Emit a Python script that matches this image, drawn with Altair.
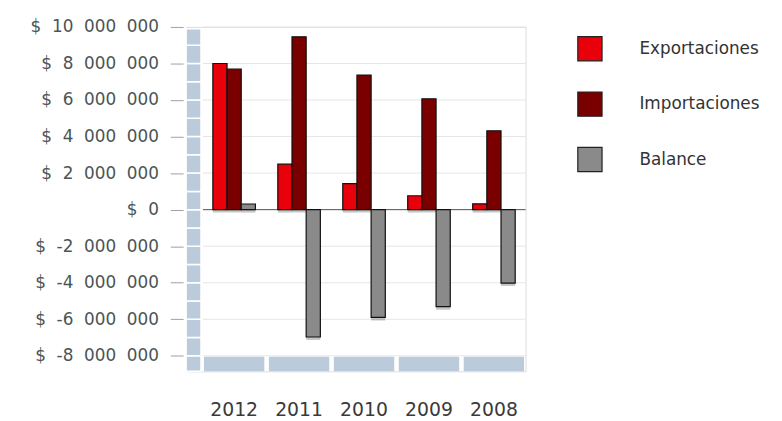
import altair as alt
import pandas as pd

years = ["2012", "2011", "2010", "2009", "2008"]
series = ["Exportaciones", "Importaciones", "Balance"]
exportaciones = [8000000, 2490000, 1420000, 760000, 320000]
importaciones = [7690000, 9460000, 7370000, 6070000, 4320000]
balance = [310000, -6970000, -5900000, -5310000, -4020000]
colors = ["#e8000a", "#7a0000", "#8a8a8a"]
tick_values = [-8000000, -6000000, -4000000, -2000000, 0, 2000000, 4000000, 6000000, 8000000, 10000000]
wall_marks = [-8850000, -8000000, -7000000, -6000000, -5000000, -4000000, -3000000, -2000000, -1000000,
              0, 1000000, 2000000, 3000000, 4000000, 5000000, 6000000, 7000000, 8000000, 9000000, 9900000]
floor_top = -8050000
floor_bottom = -8850000

rows = []
for i, y in enumerate(years):
    rows.append({"year": y, "serie": series[0], "value": exportaciones[i]})
    rows.append({"year": y, "serie": series[1], "value": importaciones[i]})
    rows.append({"year": y, "serie": series[2], "value": balance[i]})
df = pd.DataFrame(rows)

grid_df = pd.DataFrame({"v": tick_values})
wall_df = pd.DataFrame({"y0": wall_marks[:-1], "y1": wall_marks[1:]})
floor_df = pd.DataFrame({"year": years, "top": [floor_top] * 5, "bottom": [floor_bottom] * 5})
zero_df = pd.DataFrame({"v": [0]})

W, H = 343, 348
yscale = alt.Scale(domain=[floor_bottom, 10000000], nice=False, zero=False)
xscale = alt.Scale(domain=years, range=[27, 332.5], paddingInner=0.345, paddingOuter=0)

FONT = "DejaVu Sans"

yaxis = alt.Axis(
    values=tick_values, grid=False, domain=False, tickSize=13, tickColor="#a0a0a0",
    offset=3, labelPadding=12, labelFont=FONT, labelFontSize=17, labelColor="#4a5555",
    labelOverlap=False, tickCount=10,
    labelExpr="'$\u2007' + replace(replace(format(datum.value, ','), regexp(',', 'g'), '\u2007'), '\u2212', '-')",
    title=None)

xaxis = alt.Axis(
    title=None, domain=False, ticks=False, labelAngle=0, labelAlign="center", labelPadding=30,
    labelFont=FONT, labelFontSize=19, labelColor="#3a3a3a")

grid = alt.Chart(grid_df).mark_rule(color="#e6e6e6", strokeWidth=1).encode(
    x=alt.value(17), x2=alt.value(W),
    y=alt.Y("v:Q", scale=yscale, axis=yaxis),
)

wall = alt.Chart(wall_df).mark_rect(color="#bccbdb", stroke="white", strokeWidth=1.5).encode(
    x=alt.value(0), x2=alt.value(15),
    y=alt.Y("y0:Q", scale=yscale, axis=yaxis), y2="y1:Q",
)

floor = alt.Chart(floor_df).mark_bar(color="#bccbdb", width=61).encode(
    x=alt.X("year:N", scale=xscale, sort=years, axis=xaxis),
    y=alt.Y("top:Q", scale=yscale, axis=yaxis), y2="bottom:Q",
)

shadow = alt.Chart(df).mark_bar(color="#000000", opacity=0.22, xOffset=3, yOffset=3, x2Offset=3, y2Offset=3).encode(
    x=alt.X("year:N", scale=xscale, sort=years, axis=xaxis),
    xOffset=alt.XOffset("serie:N", sort=series, scale=alt.Scale(paddingInner=0, paddingOuter=0)),
    y=alt.Y("value:Q", scale=yscale, axis=yaxis),
    y2=alt.datum(0),
)

zero = alt.Chart(zero_df).mark_rule(color="#555555", strokeWidth=1).encode(
    x=alt.value(17), x2=alt.value(W),
    y=alt.Y("v:Q", scale=yscale, axis=yaxis),
)

bars = alt.Chart(df).mark_bar(stroke="#111111", strokeWidth=1.2).encode(
    x=alt.X("year:N", scale=xscale, sort=years, axis=xaxis),
    xOffset=alt.XOffset("serie:N", sort=series, scale=alt.Scale(paddingInner=0, paddingOuter=0)),
    y=alt.Y("value:Q", scale=yscale, axis=yaxis),
    y2=alt.datum(0),
    color=alt.Color("serie:N", sort=series, scale=alt.Scale(domain=series, range=colors),
                    legend=alt.Legend(title=None, orient="none", legendX=395, legendY=9,
                                      symbolType="square", symbolSize=600, symbolStrokeColor="#222222",
                                      symbolStrokeWidth=1.2, symbolOpacity=1,
                                      labelFont=FONT, labelFontSize=17, labelColor="#333333",
                                      labelOffset=37, rowPadding=26, padding=0)),
)

chart = alt.layer(grid, wall, floor, shadow, zero, bars).properties(
    width=W, height=H,
    autosize=alt.AutoSizeParams(type="none"),
    padding={"left": 180, "top": 17, "right": 251, "bottom": 46},
).configure_view(stroke=None).configure(background="white")

chart.save("out.html", embed_options={"renderer": "svg", "actions": False})
